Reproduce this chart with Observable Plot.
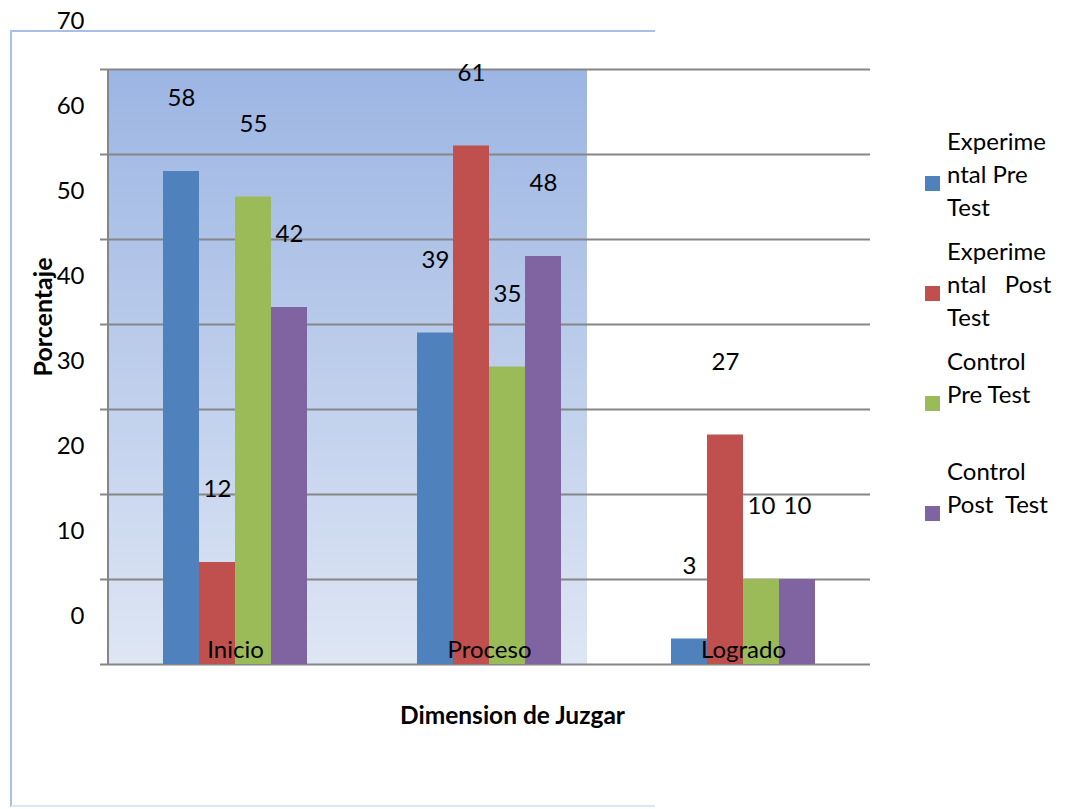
<!DOCTYPE html>
<html>
<head>
<meta charset="utf-8">
<script src="https://cdn.jsdelivr.net/npm/d3@7"></script>
<script src="https://cdn.jsdelivr.net/npm/@observablehq/plot@0.6"></script>
<style>
  html, body { margin: 0; padding: 0; background: #fff; }
  #wrap { position: relative; width: 1069px; height: 809px; font-family: Lato, "Open Sans", sans-serif; color: #000; }
  #wrap svg { position: absolute; left: 0; top: 0; }
  .legend-item { position: absolute; left: 925px; }
  .legend-swatch { position: absolute; left: 0; width: 15px; height: 15px; }
  .legend-text { position: absolute; left: 22px; font-size: 24px; line-height: 33px; white-space: pre; }
</style>
</head>
<body>
<div id="wrap"></div>
<script>
// Dimension de Juzgar: percentage per level and group
const categories = ["Inicio", "Proceso", "Logrado"];
const series = ["Experimental Pre Test", "Experimental Post Test", "Control Pre Test", "Control Post Test"];
const expPre = [58, 39, 3];
const expPost = [12, 61, 27];
const ctrlPre = [55, 35, 10];
const ctrlPost = [42, 48, 10];
const colors = ["#4f81bd", "#c0504d", "#9bbb59", "#8064a2"];
const yTicks = [0, 10, 20, 30, 40, 50, 60, 70];
// legend labels as they wrap in the narrow legend box
const legendLines = [
  ["Experime", "ntal Pre", "Test"],
  ["Experime", "ntal   Post", "Test"],
  ["Control", "Pre Test"],
  ["Control", "Post  Test"]
];

const seriesValues = [expPre, expPost, ctrlPre, ctrlPost];
const data = categories.flatMap((c, i) =>
  series.map((s, j) => ({category: c, series: s, value: seriesValues[j][i]}))
);

const W = 1069, H = 809;
const mL = 108, mR = 199, mT = 69, mB = 145;
const grid = "#868686";
const fs = 24;

const chart = Plot.plot({
  width: W,
  height: H,
  marginLeft: mL,
  marginRight: mR,
  marginTop: mT,
  marginBottom: mB,
  style: {background: "transparent", fontFamily: "Lato, 'Open Sans', sans-serif", fontSize: fs + "px", color: "#000", overflow: "visible"},
  fx: {domain: categories, padding: 0, axis: null},
  x: {domain: series, paddingInner: 0, paddingOuter: 1.5, axis: null},
  y: {domain: [0, 70], axis: null},
  color: {domain: series, range: colors},
  marks: [
    Plot.ruleY(yTicks, {stroke: grid, strokeWidth: 2}),
    Plot.axisY(yTicks, {tickSize: 8, stroke: grid, strokeWidth: 2, fill: "none", label: null}),
    Plot.axisY(yTicks, {tickSize: 0, tickPadding: 24, dy: -48, label: null, fontSize: fs, fill: "#000"}),
    Plot.barY(data, {fx: "category", x: "series", y: "value", fill: "series"}),
    Plot.text(data, {fx: "category", x: "series", y: "value", text: d => String(d.value), dy: -73, fontSize: fs, fill: "#000"}),
    Plot.text(categories, {fx: d => d, text: d => d, frameAnchor: "bottom", lineAnchor: "middle", dy: -14, fontSize: fs, fill: "#000"}),
    Plot.text([{c: "Inicio", t: "Porcentaje"}], {fx: "c", text: "t", frameAnchor: "left", textAnchor: "middle", lineAnchor: "middle", dx: -65, dy: -50, rotate: -90, fontWeight: "bold", fontSize: 25, fill: "#000"}),
    Plot.text([{c: "Proceso", t: "Dimension de Juzgar"}], {fx: "c", text: "t", frameAnchor: "bottom", textAnchor: "middle", lineAnchor: "middle", dx: 23, dy: 52, fontWeight: "bold", fontSize: 24.5, fill: "#000"})
  ]
});

// plot-area decorations: shaded panel, vertical axis line, outer frame
const svg = d3.select(chart);
const yS = chart.scale("y");
const yTop = yS.apply(70), yBot = yS.apply(0);

const defs = svg.insert("defs", ":first-child");
const lg = defs.append("linearGradient").attr("id", "panelFill").attr("x1", 0).attr("y1", 0).attr("x2", 0).attr("y2", 1);
lg.append("stop").attr("offset", "0%").attr("stop-color", "#9cb5e3");
lg.append("stop").attr("offset", "100%").attr("stop-color", "#dee6f4");
defs.append("filter").attr("id", "soft").append("feGaussianBlur").attr("stdDeviation", 2);

const deco = svg.insert("g", "defs + *");
deco.append("rect")
  .attr("x", mL + 1).attr("y", yTop)
  .attr("width", 587 - mL - 1).attr("height", yBot - yTop)
  .attr("fill", "url(#panelFill)");
// outer frame with a faint shadow on its left edge
deco.append("line").attr("x1", 7).attr("x2", 7).attr("y1", 40).attr("y2", 806)
  .attr("stroke", "#9a9a9a").attr("stroke-width", 4).attr("opacity", 0.5).attr("filter", "url(#soft)");
deco.append("line").attr("x1", 11).attr("x2", 655).attr("y1", 31).attr("y2", 31)
  .attr("stroke", "#a8bfe8").attr("stroke-width", 2);
deco.append("line").attr("x1", 11).attr("x2", 11).attr("y1", 30).attr("y2", 807)
  .attr("stroke", "#a8bfe8").attr("stroke-width", 2);
deco.append("line").attr("x1", 11).attr("x2", 655).attr("y1", 806).attr("y2", 806)
  .attr("stroke", "#dde6f5").attr("stroke-width", 2);

// vertical value axis line
svg.append("line")
  .attr("x1", mL).attr("x2", mL).attr("y1", yTop).attr("y2", yBot)
  .attr("stroke", grid).attr("stroke-width", 2);

const wrap = document.getElementById("wrap");
wrap.appendChild(chart);

// legend on the right
series.forEach((s, i) => {
  const top = 176 + 110 * i;
  const item = document.createElement("div");
  item.className = "legend-item";
  item.style.top = top + "px";
  const sw = document.createElement("div");
  sw.className = "legend-swatch";
  sw.style.background = colors[i];
  sw.style.top = "0px";
  const tx = document.createElement("div");
  tx.className = "legend-text";
  tx.style.top = "-52px";
  tx.textContent = legendLines[i].join("\n");
  item.appendChild(sw);
  item.appendChild(tx);
  wrap.appendChild(item);
});
</script>
</body>
</html>
